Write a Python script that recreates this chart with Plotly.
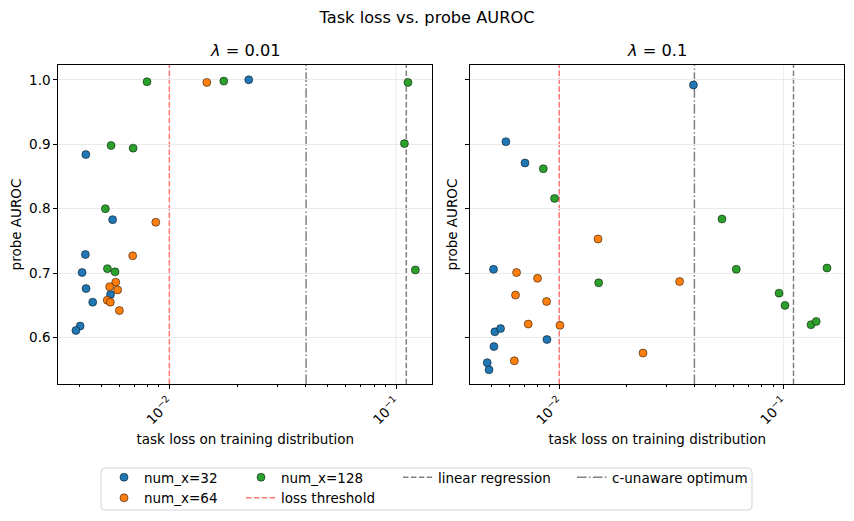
import plotly.graph_objects as go

# lambda = 0.01 panel
l001_x32_loss = [0.00428, 0.00562, 0.00426, 0.00412, 0.00429, 0.00459, 0.00550, 0.00404, 0.00387, 0.0224]
l001_x32_auroc = [0.884, 0.783, 0.729, 0.701, 0.676, 0.655, 0.667, 0.618, 0.611, 1.000]
l001_x64_loss = [0.00871, 0.00689, 0.00580, 0.00545, 0.00591, 0.00532, 0.00549, 0.00602, 0.01463]
l001_x64_auroc = [0.779, 0.727, 0.686, 0.679, 0.674, 0.658, 0.655, 0.642, 0.996]
l001_x128_loss = [0.00797, 0.01738, 0.00553, 0.00692, 0.00522, 0.00533, 0.00576, 0.1129, 0.1089, 0.1217]
l001_x128_auroc = [0.997, 0.998, 0.898, 0.894, 0.800, 0.707, 0.702, 0.996, 0.901, 0.705]

# lambda = 0.1 panel
l01_x32_loss = [0.0397, 0.00578, 0.00703, 0.00509, 0.00516, 0.00547, 0.00511, 0.00881, 0.00477, 0.00486]
l01_x32_auroc = [0.992, 0.904, 0.871, 0.706, 0.609, 0.614, 0.586, 0.597, 0.561, 0.550]
l01_x64_loss = [0.01489, 0.00645, 0.00800, 0.03444, 0.00638, 0.00878, 0.00727, 0.01007, 0.02364, 0.00630]
l01_x64_auroc = [0.753, 0.701, 0.692, 0.687, 0.666, 0.656, 0.621, 0.619, 0.576, 0.564]
l01_x128_loss = [0.00849, 0.00953, 0.05322, 0.01499, 0.06165, 0.1566, 0.0957, 0.1017, 0.1329, 0.1402]
l01_x128_auroc = [0.862, 0.816, 0.784, 0.685, 0.706, 0.708, 0.669, 0.650, 0.620, 0.625]

# reference losses (vertical lines)
LOSS_THRESHOLD = 0.01
LINREG_LOSS = 0.111
C_UNAWARE_LOSS = 0.0401

panel_titles = ["<i>λ</i> = 0.01", "<i>λ</i> = 0.1"]
y_ticks = [0.6, 0.7, 0.8, 0.9, 1.0]
x_ticks = [0.01, 0.1]
x_ticktext = ["10<sup>−2</sup>", "10<sup>−1</sup>"]
x_minor = [0.003, 0.004, 0.005, 0.006, 0.007, 0.008, 0.009,
           0.02, 0.03, 0.04, 0.05, 0.06, 0.07, 0.08, 0.09, 0.2]

colors = {"32": "#1f77b4", "64": "#ff7f0e", "128": "#2ca02c"}
RED = "#ff7777"
GRID = "#ebebeb"
DASHED = "5.5px,2.4px"
DASHDOT = "9.6px,2.4px,1.5px,2.4px"
FONT = "DejaVu Sans"
FS = 13.5      # labels, ticks, legend
FS_TITLE = 16.2

# the page puts the plot 8px in from the top-left corner
OFF = 8
W, H = 854 - OFF, 521 - OFF


def fx(px):
    return (px - OFF) / W


def fy(py):
    return 1 - (py - OFF) / H


panels = [
    {"32": (l001_x32_loss, l001_x32_auroc), "64": (l001_x64_loss, l001_x64_auroc),
     "128": (l001_x128_loss, l001_x128_auroc)},
    {"32": (l01_x32_loss, l01_x32_auroc), "64": (l01_x64_loss, l01_x64_auroc),
     "128": (l01_x128_loss, l01_x128_auroc)},
]

fig = go.Figure()

for i, panel in enumerate(panels):
    xa = "x" if i == 0 else "x2"
    ya = "y" if i == 0 else "y2"
    ref = "y domain" if i == 0 else "y2 domain"
    # x grid drawn as shapes so the reference lines sit on top of it
    for v in x_ticks:
        fig.add_shape(type="line", xref=xa, yref=ref, x0=v, x1=v, y0=0, y1=1,
                      line=dict(color=GRID, width=1), layer="below")
    for n in ["32", "64", "128"]:
        xs, ys = panel[n]
        fig.add_trace(go.Scatter(
            x=xs, y=ys, mode="markers", xaxis=xa, yaxis=ya,
            marker=dict(size=8, color=colors[n], line=dict(color="black", width=0.5)),
            name=f"num_x={n}", showlegend=False,
        ))
    for val, col, dash in [(LOSS_THRESHOLD, RED, DASHED),
                           (C_UNAWARE_LOSS, "gray", DASHDOT),
                           (LINREG_LOSS, "gray", DASHED)]:
        fig.add_shape(type="line", xref=xa, yref=ref, x0=val, x1=val, y0=0, y1=1,
                      line=dict(color=col, width=1.5, dash=dash), layer="below")

# legend-only entries, one legend per column like matplotlib's ncol=4
legend_items = [
    ("num_x=32", "markers", colors["32"], None, "legend"),
    ("num_x=64", "markers", colors["64"], None, "legend"),
    ("num_x=128", "markers", colors["128"], None, "legend2"),
    ("loss threshold", "lines", RED, DASHED, "legend2"),
    ("linear regression", "lines", "gray", DASHED, "legend3"),
    ("c-unaware optimum", "lines", "gray", DASHDOT, "legend4"),
]
for name, mode, col, dash, leg in legend_items:
    kw = dict(x=[None], y=[None], mode=mode, name=name, legend=leg, showlegend=True)
    if mode == "markers":
        kw["marker"] = dict(size=8, color=col, line=dict(color="black", width=0.5))
    else:
        kw["line"] = dict(color=col, width=1.5, dash=dash)
    fig.add_trace(go.Scatter(**kw))

axis_common = dict(showline=True, linecolor="black", linewidth=1, mirror=True,
                   ticks="outside", ticklen=4, tickcolor="black",
                   gridcolor=GRID, zeroline=False, automargin=False,
                   tickfont=dict(family=FONT, size=FS, color="black"))

xaxis_common = dict(axis_common, type="log", tickvals=x_ticks, ticktext=x_ticktext, tickangle=-45,
                    showgrid=False,
                    minor=dict(ticks="outside", ticklen=2, tickcolor="black", tickvals=x_minor, showgrid=False),
                    title=dict(text="task loss on training distribution",
                               font=dict(family=FONT, size=FS, color="black"), standoff=8))

y_dom = [fy(384), fy(65)]
fig.update_layout(
    width=W, height=H,
    margin=dict(l=0, r=0, t=0, b=0),
    plot_bgcolor="white", paper_bgcolor="white",
    font=dict(family=FONT, size=FS, color="black"),
    xaxis=dict(xaxis_common, domain=[fx(58.3), fx(432.3)], range=[-2.49, -0.84], anchor="y"),
    xaxis2=dict(xaxis_common, domain=[fx(470.3), fx(844.3)], range=[-2.397, -0.728], anchor="y2"),
    yaxis=dict(axis_common, domain=y_dom, range=[0.528, 1.023], tickvals=y_ticks,
               tickformat=".1f", anchor="x",
               title=dict(text="probe AUROC", font=dict(family=FONT, size=FS), standoff=6)),
    yaxis2=dict(axis_common, domain=y_dom, range=[0.528, 1.023], tickvals=y_ticks,
                showticklabels=False, anchor="x2", matches="y",
                title=dict(text="probe AUROC", font=dict(family=FONT, size=FS), standoff=4)),
    title=dict(text="Task loss vs. probe AUROC", x=fx(427), xanchor="center", y=fy(17), yanchor="middle",
               font=dict(family=FONT, size=FS_TITLE, color="black")),
)

for i, t in enumerate(panel_titles):
    fig.add_annotation(text=t, xref="x domain" if i == 0 else "x2 domain", yref="paper",
                       x=0.5, y=fy(51), showarrow=False, yanchor="middle",
                       font=dict(family=FONT, size=FS_TITLE, color="black"))

leg_common = dict(orientation="v", xanchor="left", yanchor="top", y=fy(462),
                  bgcolor="rgba(0,0,0,0)", borderwidth=0, tracegroupgap=0,
                  font=dict(family=FONT, size=FS, color="black"))
fig.update_layout(
    legend=dict(leg_common, x=fx(104)),
    legend2=dict(leg_common, x=fx(241)),
    legend3=dict(leg_common, x=fx(398)),
    legend4=dict(leg_common, x=fx(572)),
)

# legend frame with rounded corners
x0, x1, y0, y1 = fx(101), fx(752), fy(510), fy(468)
rx, ry = 4 / W, 4 / H
frame = (f"M {x0 + rx},{y0} L {x1 - rx},{y0} Q {x1},{y0} {x1},{y0 + ry} "
         f"L {x1},{y1 - ry} Q {x1},{y1} {x1 - rx},{y1} L {x0 + rx},{y1} "
         f"Q {x0},{y1} {x0},{y1 - ry} L {x0},{y0 + ry} Q {x0},{y0} {x0 + rx},{y0} Z")
fig.add_shape(type="path", xref="paper", yref="paper", path=frame,
              line=dict(color="#d4d4d4", width=1), fillcolor="rgba(0,0,0,0)", layer="above")

fig.write_html("out.html")
